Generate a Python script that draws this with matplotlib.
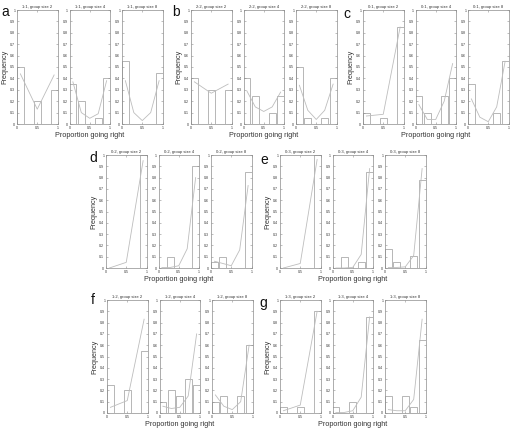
import matplotlib
matplotlib.use("Agg")
import matplotlib.pyplot as plt
import numpy as np

plt.rcParams['font.family'] = ['Liberation Sans', 'DejaVu Sans']

# ---------------- data ----------------
ratios = ["1:1", "2:2", "0:1", "0:2", "0:3", "1:2", "1:3"]
panel_letters = ["a", "b", "c", "d", "e", "f", "g"]
group_sizes = [2, 4, 8]

# bar heights (3 bins for group size 2, 5 bins for 4 and 8)
bars_a = [[0.50, 0.20, 0.30], [0.35, 0.20, 0.00, 0.05, 0.40], [0.55, 0.00, 0.00, 0.00, 0.45]]
bars_b = [[0.40, 0.30, 0.30], [0.40, 0.25, 0.00, 0.10, 0.25], [0.50, 0.05, 0.00, 0.05, 0.40]]
bars_c = [[0.10, 0.05, 0.85], [0.25, 0.10, 0.00, 0.25, 0.40], [0.35, 0.00, 0.00, 0.10, 0.55]]
bars_d = [[0.00, 0.00, 1.00], [0.00, 0.10, 0.00, 0.00, 0.90], [0.05, 0.10, 0.00, 0.00, 0.85]]
bars_e = [[0.00, 0.00, 1.00], [0.00, 0.10, 0.00, 0.05, 0.85], [0.17, 0.05, 0.00, 0.11, 0.78]]
bars_f = [[0.25, 0.20, 0.55], [0.10, 0.20, 0.15, 0.30, 0.25], [0.10, 0.15, 0.00, 0.15, 0.60]]
bars_g = [[0.05, 0.05, 0.90], [0.05, 0.00, 0.10, 0.00, 0.85], [0.15, 0.00, 0.15, 0.05, 0.65]]

# model prediction lines
line_a = [[0.44, 0.13, 0.43], [0.37, 0.10, 0.05, 0.09, 0.38], [0.38, 0.10, 0.03, 0.10, 0.38]]
line_b = [[0.37, 0.27, 0.35], [0.29, 0.15, 0.11, 0.15, 0.28], [0.34, 0.12, 0.04, 0.12, 0.35]]
line_c = [[0.07, 0.085, 0.85], [0.17, 0.04, 0.04, 0.20, 0.53], [0.22, 0.06, 0.02, 0.15, 0.55]]
line_d = [[0.00, 0.05, 0.95], [0.005, 0.005, 0.02, 0.17, 0.80], [0.06, 0.04, 0.02, 0.16, 0.73]]
line_e = [[0.00, 0.04, 0.96], [0.00, 0.00, 0.005, 0.12, 0.88], [0.005, 0.005, 0.01, 0.11, 0.88]]
line_f = [[0.05, 0.11, 0.83], [0.06, 0.04, 0.05, 0.15, 0.70], [0.16, 0.06, 0.03, 0.10, 0.60]]
line_g = [[0.02, 0.07, 0.90], [0.005, 0.005, 0.02, 0.14, 0.85], [0.03, 0.02, 0.02, 0.12, 0.83]]

all_bars = [bars_a, bars_b, bars_c, bars_d, bars_e, bars_f, bars_g]
all_lines = [line_a, line_b, line_c, line_d, line_e, line_f, line_g]

y_ticks = [0, 0.1, 0.2, 0.3, 0.4, 0.5, 0.6, 0.7, 0.8, 0.9, 1]
y_ticklabels = ["0", "0.1", "0.2", "0.3", "0.4", "0.5", "0.6", "0.7", "0.8", "0.9", "1"]
x_ticks = [0, 0.5, 1]
x_ticklabels = ["0", "0.5", "1"]

# ---------------- layout (pixels) ----------------
W, H = 511, 429
fig = plt.figure(figsize=(W / 100, H / 100), dpi=100)
fig.patch.set_facecolor("white")

# panel: (left x, top y, bottom y, letter x, letter y)
panel_pos = [
    (17, 10, 124, 5, 12),
    (191, 10, 124, 176, 12),
    (363, 10, 124, 347, 14),
    (106, 155, 268, 93, 158),
    (280, 155, 268, 264, 160),
    (107, 300, 413, 93, 300),
    (280, 300, 413, 263, 303),
]
sub_w = 40.5
gap = 12.0

spine_col = "#8c8c8c"
bar_col = "#ababab"
line_col = "#bdbdbd"
text_col = "#333333"

for p in range(7):
    px, top, bot, lx, ly = panel_pos[p]
    for s in range(3):
        left = px + s * (sub_w + gap)
        ax = fig.add_axes([left / W, 1 - bot / H, sub_w / W, (bot - top) / H])
        n = group_sizes[s]
        heights = all_bars[p][s]
        nb = len(heights)
        centers = np.linspace(1 / 12, 11 / 12, nb)
        ax.bar(centers, heights, width=0.17, facecolor="white",
               edgecolor=bar_col, linewidth=0.6, zorder=1)
        ax.plot(centers, all_lines[p][s], color=line_col, linewidth=0.6, zorder=2)
        ax.set_xlim(0, 1)
        ax.set_ylim(0, 1)
        ax.set_xticks(x_ticks)
        ax.set_xticklabels(x_ticklabels)
        ax.set_yticks(y_ticks)
        ax.set_yticklabels(y_ticklabels)
        ax.tick_params(direction="in", length=1.2, width=0.4, colors=spine_col,
                       labelcolor=text_col, labelsize=2.6, pad=1.2,
                       top=True, right=True)
        for sp in ax.spines.values():
            sp.set_color(spine_col)
            sp.set_linewidth(0.5)
        ax.set_title(f"{ratios[p]}, group size {n}", fontsize=3.0,
                     color=text_col, pad=1.5)
        if s == 0:
            ax.set_ylabel("Frequency", fontsize=5.2, color=text_col, labelpad=1.5)
        if s == 1:
            ax.set_xlabel("Proportion going right", fontsize=5.2,
                          color=text_col, labelpad=1.5)
    fig.text(lx / W, 1 - ly / H, panel_letters[p], fontsize=10,
             ha="center", va="center", color="#111111")

fig.savefig("out.png", dpi=100, facecolor="white")
